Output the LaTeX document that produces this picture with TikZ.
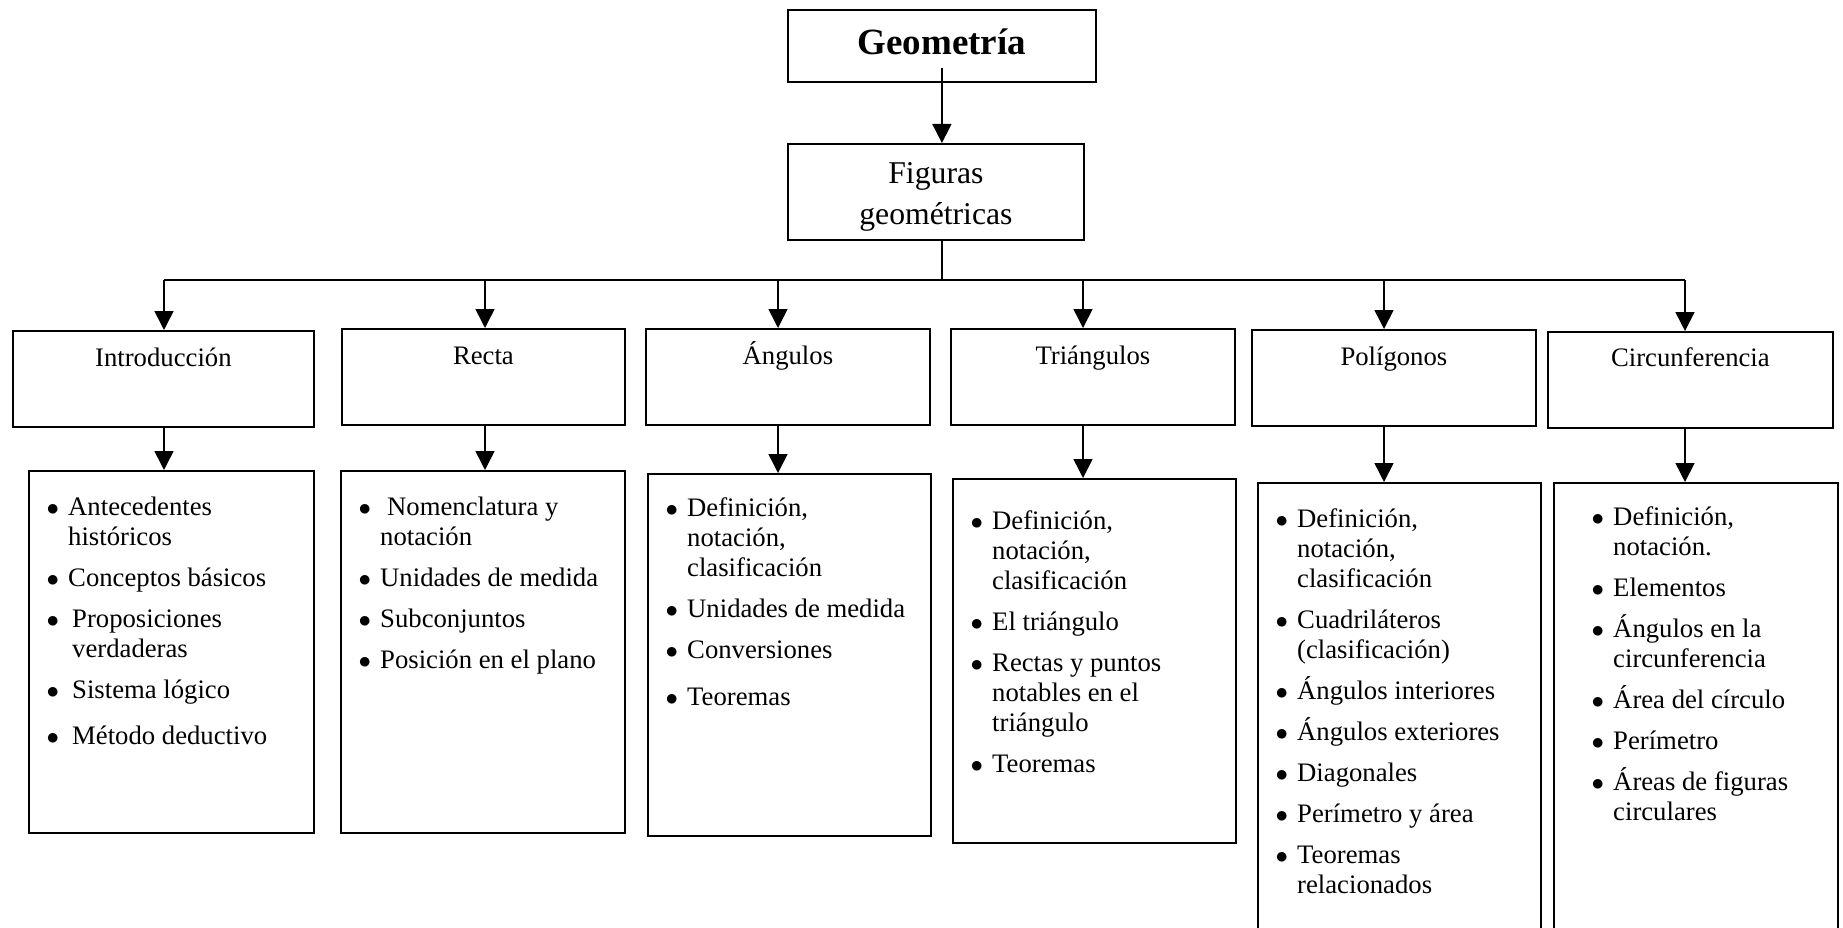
\documentclass[tikz,border=0pt]{standalone}
\usepackage{fontspec}
\setmainfont{Liberation Serif}
\usetikzlibrary{arrows.meta}

% bullet list set in a top-aligned minipage (base anchor = first baseline)
\newcommand{\itemlist}[1]{\begin{minipage}[t]{262pt}\fontsize{26.7}{30}\selectfont
  \setlength{\parskip}{11pt}\setlength{\parindent}{0pt}#1\end{minipage}}
\newcommand{\bitem}[2][0pt]{\hangindent=\dimexpr21.5pt+#1\relax\hangafter=1
  \noindent\makebox[21.5pt][l]{$\bullet$}\hspace*{#1}#2\par}

\begin{document}
\begin{tikzpicture}[x=1pt,y=-1pt,
  box/.style={draw, line width=1.8pt, inner sep=0pt, anchor=north west},
  conn/.style={line width=1.6pt},
  arr/.style={line width=1.6pt, -{Triangle[length=19pt,width=19pt]}},
  hd/.style={inner sep=0pt, anchor=base, font=\fontsize{26.7}{30}\selectfont},
  lst/.style={inner sep=0pt, anchor=base west}]
\clip (0,0) rectangle (1843,928);
\fill[white] (0,0) rectangle (1843,928);

% top levels
\node[box, minimum width=308pt, minimum height=72pt] (geo) at (787,9) {};
\node[inner sep=0pt, anchor=base, font=\bfseries\fontsize{37}{42}\selectfont]
  (geoT) at ([yshift=-46pt]geo.north) {Geometría};
\node[box, minimum width=296pt, minimum height=96pt] (fig) at (787,143) {};
\node[inner sep=0pt, anchor=base] (figT) at ([yshift=-41pt]fig.north)
  {\begin{minipage}[t]{260pt}\centering\fontsize{31.7}{40}\selectfont Figuras\\geométricas\end{minipage}};

% topic headers
\node[box, minimum width=301pt, minimum height=96pt] (intro) at (12,330) {};
\node[box, minimum width=283pt, minimum height=96pt] (recta) at (341,328) {};
\node[box, minimum width=284pt, minimum height=96pt] (ang) at (645,328) {};
\node[box, minimum width=284pt, minimum height=96pt] (tri) at (950,328) {};
\node[box, minimum width=284pt, minimum height=96pt] (pol) at (1251,329) {};
\node[box, minimum width=285pt, minimum height=96pt] (circ) at (1547,331) {};
\node[hd] (introT) at ([yshift=-36pt]intro.north) {Introducción};
\node[hd] (rectaT) at ([yshift=-36pt]recta.north) {Recta};
\node[hd] (angT) at ([yshift=-36pt]ang.north) {Ángulos};
\node[hd] (triT) at ([yshift=-36pt]tri.north) {Triángulos};
\node[hd] (polT) at ([yshift=-36pt]pol.north) {Polígonos};
\node[hd] (circT) at ([yshift=-35pt]circ.north) {Circunferencia};

% contents boxes
\node[box, minimum width=285pt, minimum height=362pt] (introL) at (28,470) {};
\node[box, minimum width=284pt, minimum height=362pt] (rectaL) at (340,470) {};
\node[box, minimum width=283pt, minimum height=362pt] (angL) at (647,473) {};
\node[box, minimum width=283pt, minimum height=364pt] (triL) at (952,478) {};
\node[box, minimum width=283pt, minimum height=470pt] (polL) at (1257,482) {};
\node[box, minimum width=284pt, minimum height=470pt] (circL) at (1553,482) {};

\node[lst] (introI) at ([xshift=18.5pt,yshift=-45pt]introL.north west) {\itemlist{%
  \bitem{Antecedentes\\históricos}
  \bitem{Conceptos básicos}
  \bitem[4pt]{Proposiciones\\verdaderas}
  \bitem[4pt]{Sistema lógico}
  \vspace{5pt}
  \bitem[4pt]{Método deductivo}}};
\node[lst] (rectaI) at ([xshift=18.5pt,yshift=-45pt]rectaL.north west) {\itemlist{%
  \bitem{\hspace*{7pt}Nomenclatura y\\notación}
  \bitem{Unidades de medida}
  \bitem{Subconjuntos}
  \bitem{Posición en el plano}}};
\node[lst] (angI) at ([xshift=18.5pt,yshift=-43pt]angL.north west) {\itemlist{%
  \bitem{Definición,\\notación,\\clasificación}
  \bitem{Unidades de medida}
  \bitem{Conversiones}
  \vspace{6pt}
  \bitem{Teoremas}}};
\node[lst] (triI) at ([xshift=18.5pt,yshift=-51pt]triL.north west) {\itemlist{%
  \bitem{Definición,\\notación,\\clasificación}
  \bitem{El triángulo}
  \bitem{Rectas y puntos\\notables en el\\triángulo}
  \bitem{Teoremas}}};
\node[lst] (polI) at ([xshift=18.5pt,yshift=-45pt]polL.north west) {\itemlist{%
  \bitem{Definición,\\notación,\\clasificación}
  \bitem{Cuadriláteros\\(clasificación)}
  \bitem{Ángulos interiores}
  \bitem{Ángulos exteriores}
  \bitem{Diagonales}
  \bitem{Perímetro y área}
  \bitem{Teoremas\\relacionados}}};
\node[lst] (circI) at ([xshift=38.5pt,yshift=-43pt]circL.north west) {\itemlist{%
  \bitem{Definición,\\notación.}
  \bitem{Elementos}
  \bitem{Ángulos en la\\circunferencia}
  \bitem{Área del círculo}
  \bitem{Perímetro}
  \bitem{Áreas de figuras\\circulares}}};

% connectors
\draw[arr] ([yshift=15pt]geo.south) -- (geo.south |- fig.north);
\coordinate (b1) at (164,280);
\coordinate (b2) at (485,280);
\coordinate (b3) at (778,280);
\coordinate (b4) at (1083,280);
\coordinate (b5) at (1384,280);
\coordinate (b6) at (1685,280);
\draw[conn] (geo.south |- fig.south) -- (geo.south |- b1);
\draw[conn] (b1) -- (b6);
\foreach \b/\h in {b1/intro, b2/recta, b3/ang, b4/tri, b5/pol, b6/circ}{
  \draw[arr] (\b) -- (\b |- \h.north);
  \draw[arr] (\b |- \h.south) -- (\b |- \h L.north);
}
\end{tikzpicture}
\end{document}
